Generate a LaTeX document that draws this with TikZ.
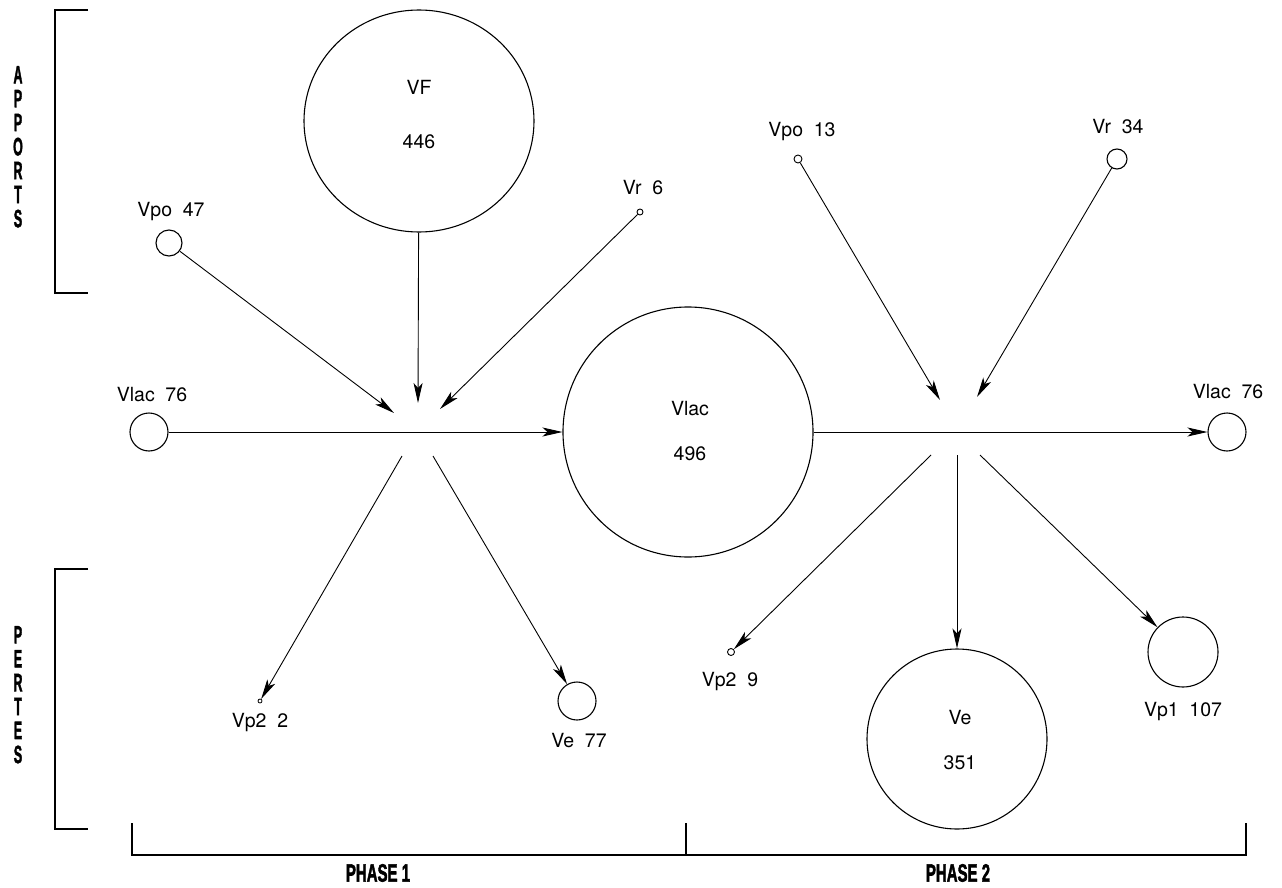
\documentclass[tikz,border=0pt]{standalone}
\usepackage{fontspec}
\setmainfont{TeX Gyre Heros}
\newfontfamily\sidefont{Liberation Sans Bold}[FakeBold=2.5]
\usetikzlibrary{arrows.meta,shapes.geometric}
\newcommand{\lgap}{\hspace{0.55em}}
\begin{document}
\begin{tikzpicture}[x=1pt,y=-1pt,
  pool/.style={draw, circle, inner sep=0pt, line width=1.1pt},
  lbl/.style={font=\fontsize{19.5}{22}\selectfont, inner sep=0pt},
  flow/.style={line width=0.9pt, -{Stealth[length=20pt,width=9pt,inset=5pt]}},
  brk/.style={line width=1.4pt},
  sidelbl/.style={font=\sidefont\fontsize{25}{22.3}\selectfont, inner sep=0pt}]
\useasboundingbox[fill=white] (0,0) rectangle (1282,888);

% brackets
\draw[brk] (88,10) -- (55,10) -- (55,293) -- (88,293);
\draw[brk] (88,569) -- (55,569) -- (55,829) -- (88,829);
\draw[brk] (132,823) -- (132,855) -- (1246,855) -- (1246,823);
\draw[brk] (686,823) -- (686,855);

% side labels
\node[sidelbl] (apports) at (18,150) {\scalebox{0.5}[1]{\begin{tabular}{@{}c@{}}A\\P\\P\\O\\R\\T\\S\end{tabular}}};
\node[sidelbl] (pertes) at (18,698) {\scalebox{0.5}[1]{\begin{tabular}{@{}c@{}}P\\E\\R\\T\\E\\S\end{tabular}}};
\node[sidelbl] (ph1) at (378,873) {\scalebox{0.6}[1]{PHASE 1}};
\node[sidelbl] (ph2) at (958,873) {\scalebox{0.6}[1]{PHASE 2}};

% pools
\node[draw, ellipse, minimum width=230pt, minimum height=222pt, inner sep=0pt, line width=1.1pt] (VF) at (419,121) {};
\node[pool, minimum size=250pt] (Vlac) at (688,432) {};
\node[pool, minimum size=180pt] (Ve) at (957,739) {};
\node[pool, minimum size=70pt] (vp1) at (1183,652) {};
\node[pool, minimum size=38pt] (vlacL) at (149,432) {};
\node[pool, minimum size=38pt] (vlacR) at (1227,432) {};
\node[pool, minimum size=26pt] (vpo47) at (169,243) {};
\node[pool, minimum size=6pt, line width=0.9pt] (vr6) at (640,212) {};
\node[pool, minimum size=8pt, line width=0.9pt] (vpo13) at (798,159) {};
\node[pool, minimum size=20pt] (vr34) at (1117,159) {};
\node[pool, minimum size=4pt, line width=0.8pt] (vp22) at (260,701) {};
\node[pool, minimum size=38pt] (ve77) at (577,701) {};
\node[pool, minimum size=7pt, line width=0.9pt] (vp29) at (731,652) {};

% free ends
\coordinate (t1) at (394,413);
\coordinate (t2) at (418,403);
\coordinate (t3) at (440,409);
\coordinate (s1) at (402,456);
\coordinate (s2) at (433,456);
\coordinate (t4) at (940,400);
\coordinate (t5) at (977,397);
\coordinate (s3) at (931,455);
\coordinate (s4) at (957,455);
\coordinate (s5) at (980,455);

% flows phase 1
\draw[flow] (vpo47) -- (t1);
\draw[flow] (VF) -- (t2);
\draw[flow] (vr6) -- (t3);
\draw[flow] (vlacL) -- (Vlac);
\draw[flow] (s1) -- (vp22);
\draw[flow] (s2) -- (ve77);
% flows phase 2
\draw[flow] (vpo13) -- (t4);
\draw[flow] (vr34) -- (t5);
\draw[flow] (Vlac) -- (vlacR);
\draw[flow] (s3) -- (vp29);
\draw[flow] (s4) -- (Ve);
\draw[flow] (s5) -- (vp1);

% labels
\node[lbl] (lvpo47) at (171,212) {Vpo\lgap 47};
\node[lbl] (lvf) at (419,87) {VF};
\node[lbl] (lvf2) at (419,142) {446};
\node[lbl] (lvr6) at (643,188) {Vr\lgap 6};
\node[lbl] (lvlacL) at (152,395) {Vlac\lgap 76};
\node[lbl] (lvlac) at (690,409) {Vlac};
\node[lbl] (lvlac2) at (690,454) {496};
\node[lbl] (lvpo13) at (802,132) {Vpo\lgap 13};
\node[lbl] (lvr34) at (1118,127) {Vr\lgap 34};
\node[lbl] (lvlacR) at (1228,392) {Vlac\lgap 76};
\node[lbl] (lvp22) at (260,723) {Vp2\lgap 2};
\node[lbl] (lve77) at (579,741) {Ve\lgap 77};
\node[lbl] (lvp29) at (730,682) {Vp2\lgap 9};
\node[lbl] (lve) at (960,718) {Ve};
\node[lbl] (lve2) at (960,763) {351};
\node[lbl] (lvp1) at (1183,712) {Vp1\lgap 107};
\end{tikzpicture}
\end{document}
